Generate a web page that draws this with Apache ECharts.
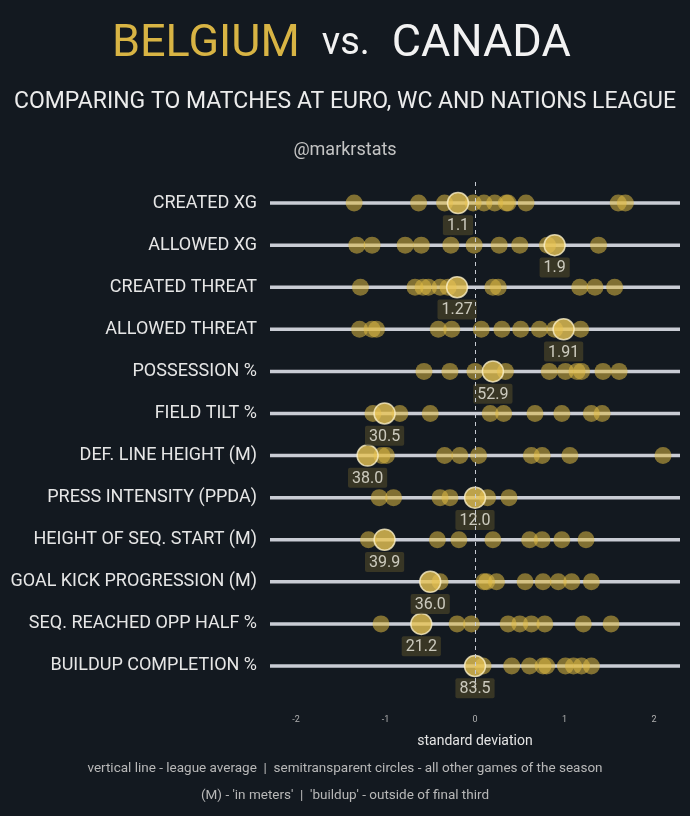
<!DOCTYPE html>
<html>
<head>
<meta charset="utf-8">
<script src="https://cdn.jsdelivr.net/npm/echarts@6/dist/echarts.min.js"></script>
<style>
html,body{margin:0;padding:0;background:#131920;}
#chart{width:690px;height:816px;}
</style>
</head>
<body>
<div id="chart"></div>
<script>
// ---- data ----
const categories = [
  'CREATED XG','ALLOWED XG','CREATED THREAT','ALLOWED THREAT','POSSESSION %','FIELD TILT %',
  'DEF. LINE HEIGHT (M)','PRESS INTENSITY (PPDA)','HEIGHT OF SEQ. START (M)',
  'GOAL KICK PROGRESSION (M)','SEQ. REACHED OPP HALF %','BUILDUP COMPLETION %'
];
// standard-deviation values of all other games of the season, per metric
const otherGames = [
  [-1.35, -0.63, -0.34, -0.02, 0.10, 0.22, 0.35, 0.37, 0.57, 1.60, 1.68],
  [-1.32, -1.15, -0.78, -0.60, -0.27, -0.01, 0.27, 0.50, 0.81, 1.38],
  [-1.28, -0.67, -0.58, -0.52, -0.39, -0.30, 0.20, 0.26, 1.17, 1.34, 1.56],
  [-1.29, -1.15, -1.10, -0.41, -0.26, 0.07, 0.30, 0.51, 0.72, 0.89, 1.18],
  [-0.57, -0.28, 0.00, 0.34, 0.83, 1.01, 1.14, 1.19, 1.43, 1.61],
  [-1.14, -0.84, -0.50, 0.17, 0.32, 0.67, 0.97, 1.30, 1.42],
  [-1.04, -0.99, -0.34, -0.17, 0.04, 0.63, 0.75, 1.06, 2.10],
  [-1.07, -0.91, -0.39, -0.28, 0.14, 0.38],
  [-1.19, -0.42, -0.18, 0.20, 0.61, 0.75, 0.97, 1.24],
  [-0.39, 0.10, 0.13, 0.24, 0.56, 0.76, 0.93, 1.08, 1.30],
  [-1.05, -0.20, -0.04, 0.37, 0.50, 0.63, 0.78, 1.21, 1.52],
  [0.09, 0.41, 0.61, 0.76, 0.80, 1.01, 1.10, 1.19, 1.30]
];
// this match (Belgium vs Canada): standard deviation and raw value
const matchSd = [-0.19, 0.89, -0.20, 0.99, 0.20, -1.01, -1.20, 0.00, -1.01, -0.50, -0.60, 0.00];
const matchRaw = ['1.1', '1.9', '1.27', '1.91', '52.9', '30.5', '38.0', '12.0', '39.9', '36.0', '21.2', '83.5'];
const xTicks = [-2, -1, 0, 1, 2];
const xMin = -2.29, xMax = 2.29;

// ---- build ----
const otherData = [];
otherGames.forEach((arr, i) => arr.forEach(v => otherData.push([v, i])));
const matchData = matchSd.map((v, i) => [v, i, matchRaw[i]]);
const rowData = categories.map((c, i) => [0, i]);

const chart = echarts.init(document.getElementById('chart'));
const FONT = 'Roboto';
chart.setOption({
  backgroundColor: '#131920',
  textStyle: {fontFamily: FONT},
  title: [
    {
      text: '{a|BELGIUM}{b|vs.}{c|CANADA}',
      left: 107, top: 17,
      textStyle: {
        rich: {
          a: {color: '#d8b444', fontSize: 45, fontWeight: 'normal', fontFamily: FONT},
          b: {color: '#f2f2f2', fontSize: 38, fontWeight: 'normal', fontFamily: FONT, padding: [0, 22, 0, 22]},
          c: {color: '#f2f2f2', fontSize: 45, fontWeight: 'normal', fontFamily: FONT}
        }
      }
    },
    {text: 'COMPARING TO MATCHES AT EURO, WC AND NATIONS LEAGUE', left: 'center', top: 86,
     textStyle: {color: '#ececec', fontSize: 23, fontWeight: 'normal', fontFamily: FONT}},
    {text: '@markrstats', left: 'center', top: 136,
     textStyle: {color: '#c4c4c4', fontSize: 18, fontWeight: 'normal', fontFamily: FONT}},
    {text: 'vertical line - league average  |  semitransparent circles - all other games of the season', left: 'center', top: 757,
     textStyle: {color: '#b8b8b8', fontSize: 13.5, fontWeight: 'normal', fontFamily: FONT}},
    {text: "(M) - 'in meters'  |  'buildup' - outside of final third", left: 'center', top: 784,
     textStyle: {color: '#b8b8b8', fontSize: 13.5, fontWeight: 'normal', fontFamily: FONT}}
  ],
  grid: {left: 270, right: 10, top: 182, bottom: 129, containLabel: false},
  xAxis: {
    type: 'value', min: xMin, max: xMax,
    axisLine: {show: false}, axisTick: {show: false}, splitLine: {show: false},
    axisLabel: {customValues: xTicks, color: '#b0b0b0', fontSize: 9, margin: 28, fontFamily: FONT},
    name: 'standard deviation', nameLocation: 'middle', nameGap: 47,
    nameTextStyle: {color: '#e4e4e4', fontSize: 14, fontFamily: FONT}
  },
  yAxis: {
    type: 'category', data: categories, inverse: true,
    axisLine: {show: false}, axisTick: {show: false}, splitLine: {show: false},
    axisLabel: {color: '#e6e6e6', fontSize: 18, margin: 13, fontFamily: FONT}
  },
  series: [
    {
      type: 'custom', name: 'rows', data: rowData, silent: true, z: 1,
      renderItem: function (params, api) {
        const p = api.coord([0, api.value(1)]);
        const cs = params.coordSys;
        return {
          type: 'line',
          shape: {x1: cs.x, y1: p[1], x2: cs.x + cs.width, y2: p[1]},
          style: {stroke: '#c9ccd4', lineWidth: 3.5}
        };
      },
      markLine: {
        silent: true, symbol: 'none', label: {show: false},
        lineStyle: {color: '#c8ccd4', type: [4, 4], width: 1},
        data: [{xAxis: 0}]
      }
    },
    {
      type: 'scatter', name: 'other games', data: otherData, z: 2,
      symbolSize: 17,
      itemStyle: {color: 'rgba(224,186,66,0.68)'}
    },
    {
      type: 'scatter', name: 'this match', data: matchData, z: 3,
      symbolSize: 21,
      itemStyle: {color: '#e8c455', borderColor: '#fbf0c8', borderWidth: 1.5},
      label: {
        show: true, position: 'bottom', distance: 1,
        formatter: p => p.value[2],
        color: '#f0efe4', fontSize: 16, fontFamily: FONT,
        backgroundColor: 'rgba(74,67,40,0.85)', padding: [3, 4, 1, 4], borderRadius: 2
      }
    }
  ]
});
</script>
</body>
</html>
